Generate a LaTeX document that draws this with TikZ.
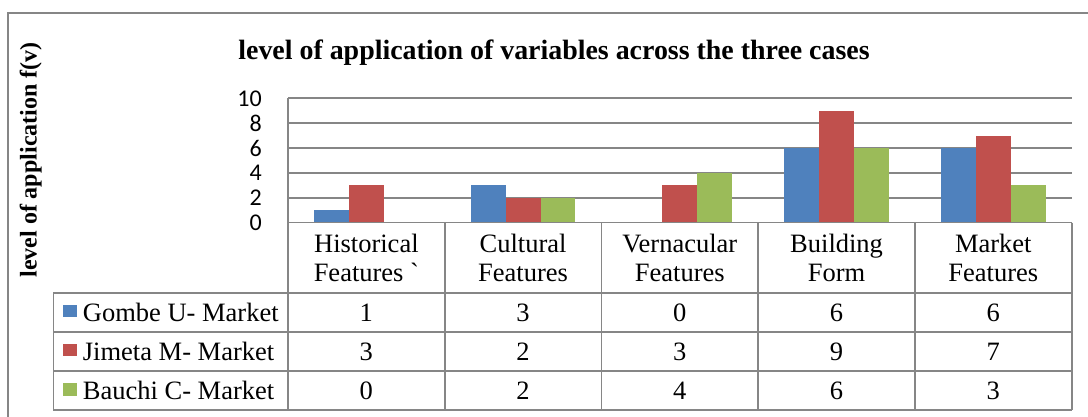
\documentclass[tikz,border=0pt]{standalone}
\usepackage{fontspec}
\setmainfont{Liberation Serif}[Ligatures=TeXOff]
\newfontfamily\calibri{Carlito}
\definecolor{gridgray}{HTML}{868686}
\definecolor{sblue}{HTML}{4F81BD}
\definecolor{sred}{HTML}{C0504D}
\definecolor{sgreen}{HTML}{9BBB59}
\begin{document}
\begin{tikzpicture}[x=1pt,y=-1pt,
  frame/.style={draw=gridgray,line width=1.6pt},
  gridline/.style={draw=gridgray,line width=1.6pt},
  tabline/.style={draw=gridgray,line width=1.6pt},
  ticklab/.style={anchor=east,inner sep=0pt,font=\calibri\fontsize{24}{26}\selectfont},
  celltext/.style={anchor=base,inner sep=0pt,font=\fontsize{26.5}{30}\selectfont},
  legtext/.style={anchor=base west,inner sep=0pt,font=\fontsize{26.5}{30}\selectfont},
  swatch/.style={inner sep=0pt,minimum width=14pt,minimum height=12.5pt},
  bar/.style={draw=none}
]
\useasboundingbox (0,0) rectangle (1088,417);
\fill[white] (0,0) rectangle (1088,417);
% outer frame
\draw[frame] (8,417) -- (8,13) -- (1088,13);
% title
\node[anchor=base,inner sep=0pt,font=\bfseries\fontsize{27.9}{30}\selectfont] (title) at (554,59.3) {level of application of variables across the three cases};
% y axis title
\node[anchor=base,rotate=90,inner sep=0pt,font=\bfseries\fontsize{24}{28}\selectfont] (ytitle) at (36.7,160) {level of application f(v)};
% gridlines
\foreach \v in {2,4,...,10}
  \draw[gridline] (288,{222.7-\v*12.44}) -- (1071.7,{222.7-\v*12.44});
% tick labels
\foreach \v in {0,2,...,10}
  \node[ticklab] (tick\v) at (262,{222.7-\v*12.44}) {\v};
% bars
\foreach \i/\a/\b/\c in {0/1/3/0,1/3/2/2,2/0/3/4,3/6/9/6,4/6/7/3}{
  \pgfmathsetmacro{\L}{288+\i*156.74+26.2}
  \ifnum\a>0 \fill[sblue] (\L,222.7) rectangle ({\L+34.8},{222.7-\a*12.44}); \fi
  \ifnum\b>0 \fill[sred] ({\L+34.8},222.7) rectangle ({\L+69.6},{222.7-\b*12.44}); \fi
  \ifnum\c>0 \fill[sgreen] ({\L+69.6},222.7) rectangle ({\L+104.4},{222.7-\c*12.44}); \fi
}
% table lines
\draw[tabline] (288,98.3) -- (288,410);
\draw[tabline] (53.3,292.7) -- (53.3,410);
\foreach \i in {1,...,5}
  \draw[tabline] ({288+\i*156.74},222.7) -- ({288+\i*156.74},410);
\draw[tabline] (288,222.7) -- (1071.7,222.7);
\foreach \y in {292.7,331.7,370.7,410}
  \draw[tabline] (53.3,\y) -- (1071.7,\y);
% header texts
\foreach \i/\l/\m in {0/Historical/Features `,1/Cultural/Features,2/Vernacular/Features,3/Building/Form,4/Market/Features}{
  \node[celltext] (hA\i) at ({288+\i*156.74+78.37},252) {\l};
  \node[celltext] (hB\i) at ({288+\i*156.74+78.37},281.5) {\m};
}
% legend
\node[swatch,fill=sblue] (sw1) at (70,311) {};
\node[swatch,fill=sred] (sw2) at (70,350) {};
\node[swatch,fill=sgreen] (sw3) at (70,389.3) {};
\node[legtext] (lg1) at (82.7,321.4) {Gombe U- Market};
\node[legtext] (lg2) at (82.7,360.4) {Jimeta M- Market};
\node[legtext] (lg3) at (82.7,399.6) {Bauchi C- Market};
% values
\foreach \i/\a/\b/\c in {0/1/3/0,1/3/2/2,2/0/3/4,3/6/9/6,4/6/7/3}{
  \node[celltext] (vA\i) at ({288+\i*156.74+78.37},321.4) {\a};
  \node[celltext] (vB\i) at ({288+\i*156.74+78.37},360.4) {\b};
  \node[celltext] (vC\i) at ({288+\i*156.74+78.37},399.6) {\c};
}
\end{tikzpicture}
\end{document}
